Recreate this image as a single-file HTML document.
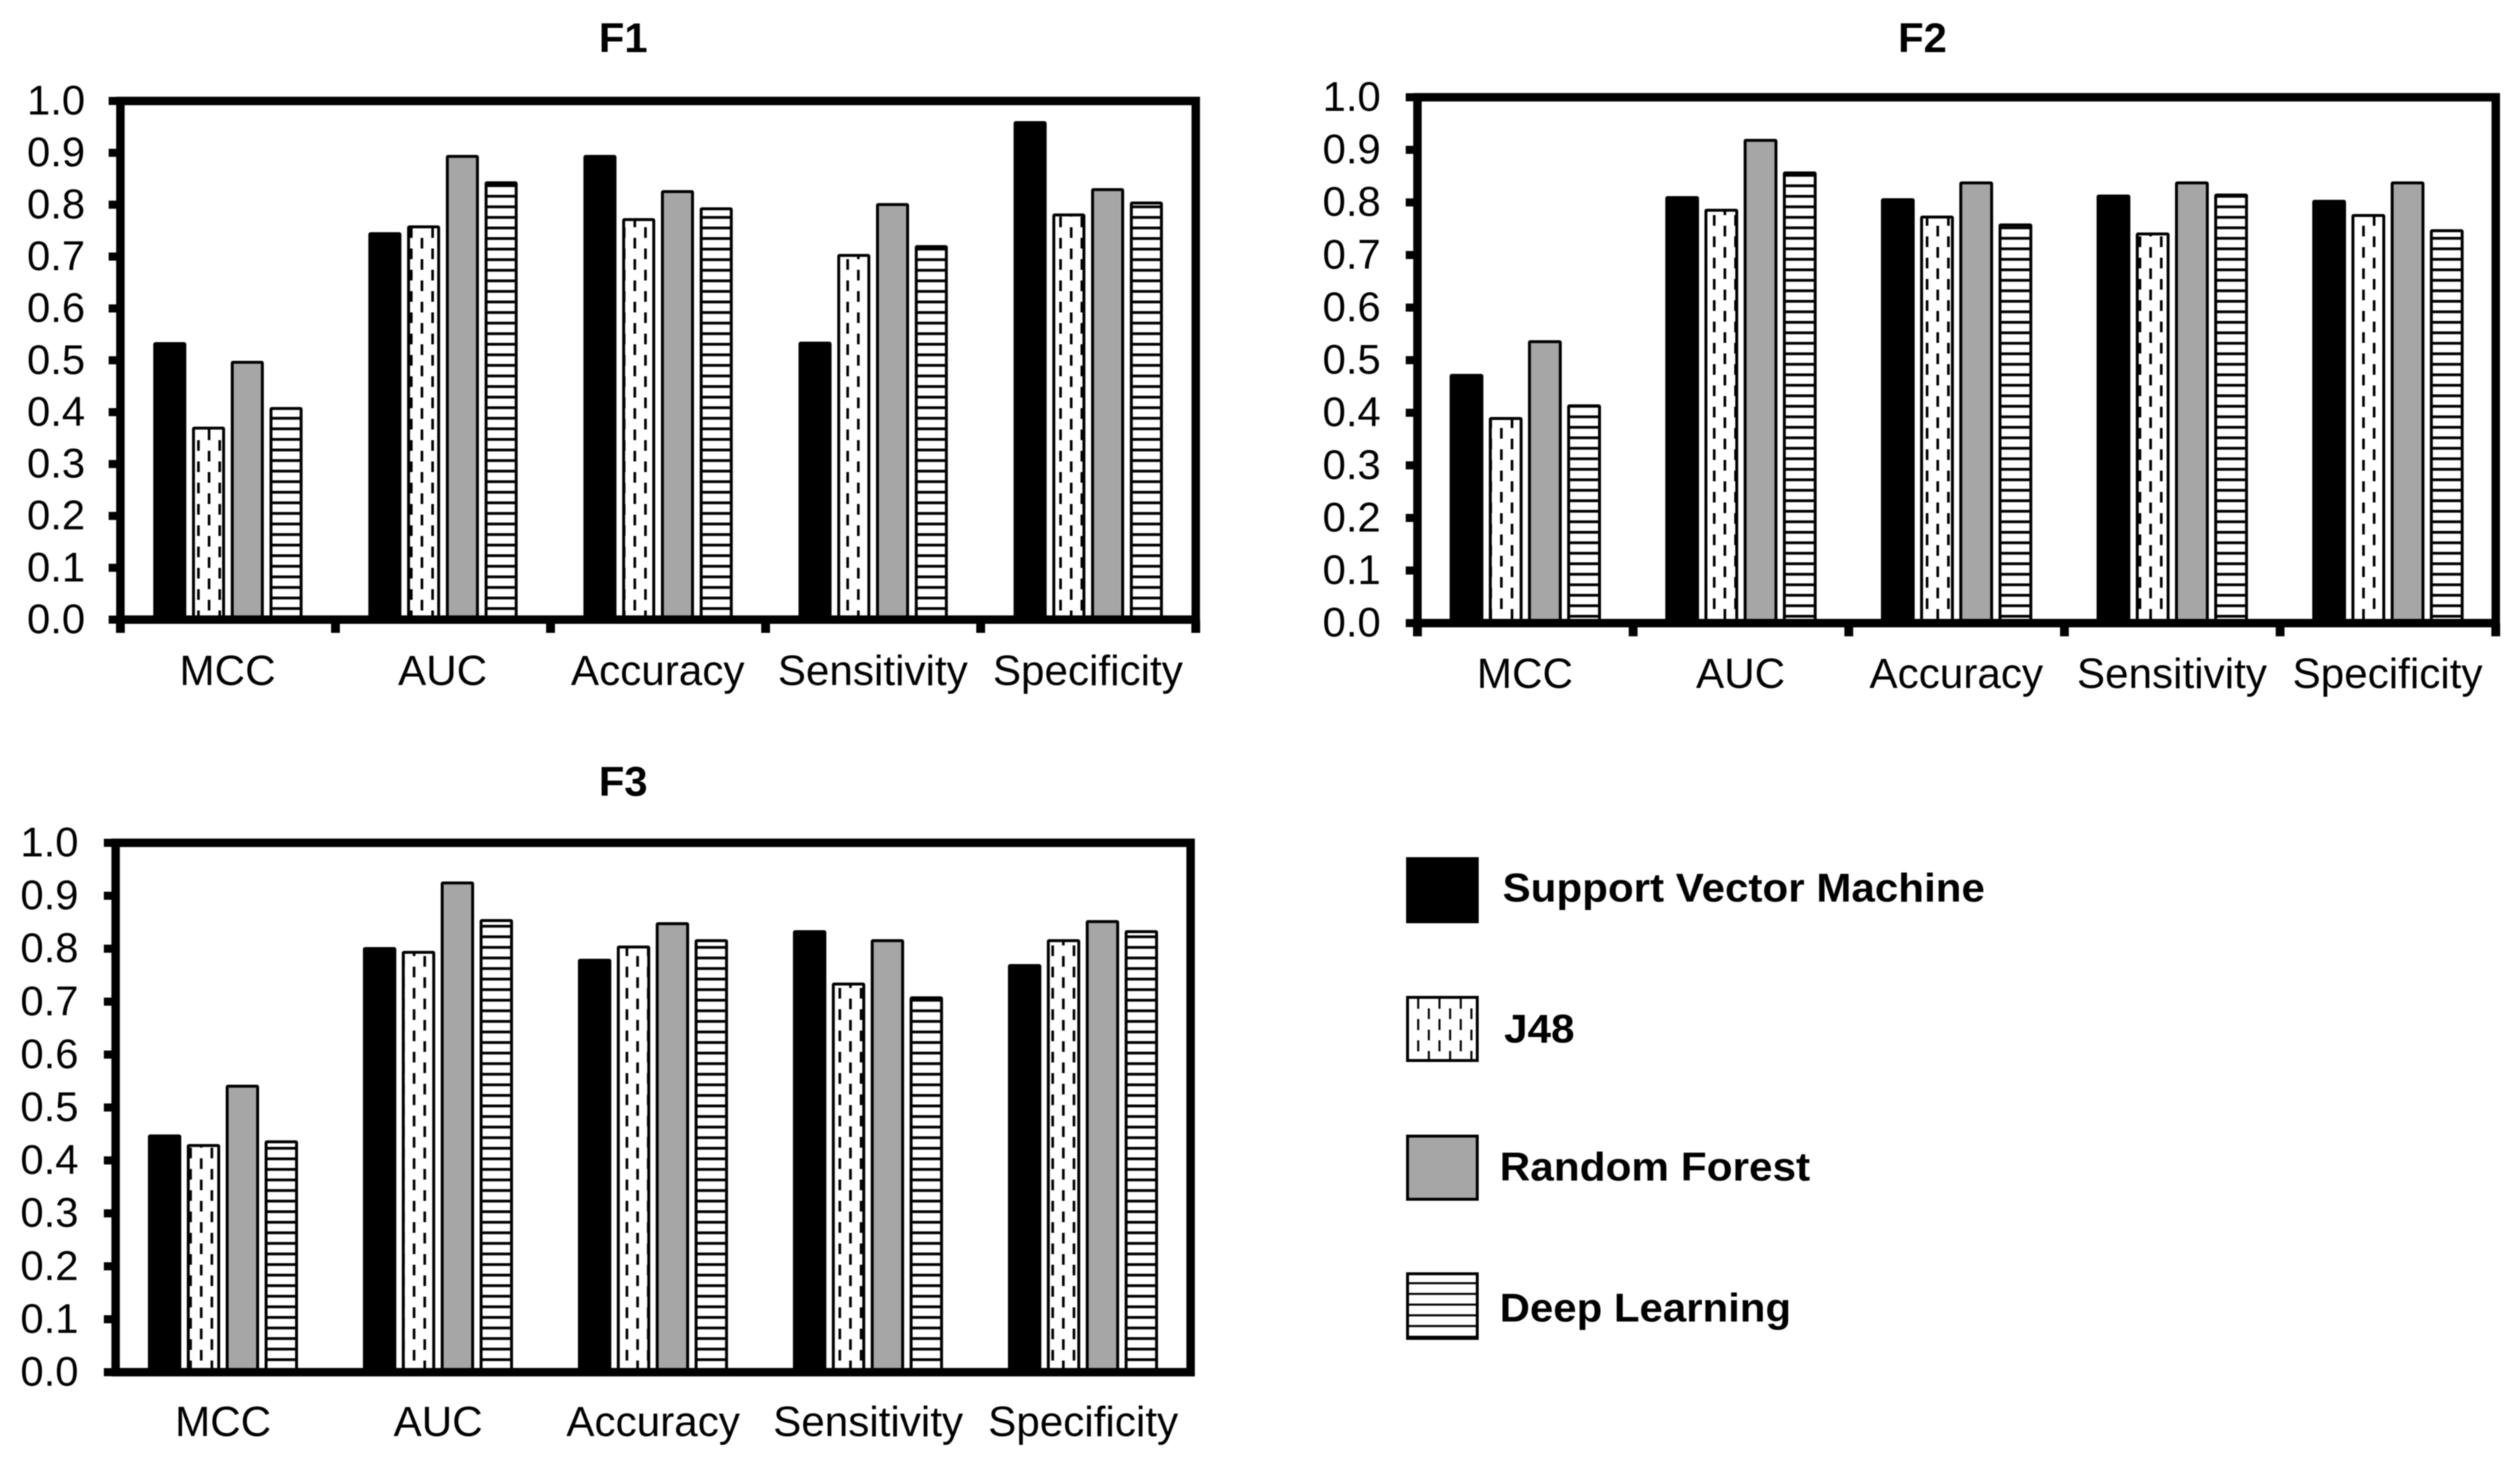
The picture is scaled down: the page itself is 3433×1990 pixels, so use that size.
<!DOCTYPE html>
<html lang="en">
<head>
<meta charset="utf-8">
<title>Classifier performance on feature sets F1, F2, F3</title>
<style>
  html, body { margin: 0; padding: 0; background: #ffffff; }
  svg { display: block; filter: blur(0.7px); }
  text { font-family: "Liberation Sans", Arial, sans-serif; fill: #000; }
  .title, .legend-label { font-weight: bold; }
</style>
</head>
<body>
<svg id="figure" xmlns="http://www.w3.org/2000/svg" width="3433" height="1990" viewBox="0 0 3433 1990">
  <defs>
    <pattern id="dash-f1" patternUnits="userSpaceOnUse" width="29" height="29" patternTransform="translate(22 5)">
      <rect x="0" y="0" width="3.6" height="14.5" fill="#000"/>
      <rect x="14.5" y="14.5" width="3.6" height="14.5" fill="#000"/>
    </pattern>
    <pattern id="dash-f2" patternUnits="userSpaceOnUse" width="29" height="29" patternTransform="translate(13.5 3)">
      <rect x="0" y="0" width="3.6" height="14.5" fill="#000"/>
      <rect x="14.5" y="14.5" width="3.6" height="14.5" fill="#000"/>
    </pattern>
    <pattern id="dash-f3" patternUnits="userSpaceOnUse" width="29" height="29" patternTransform="translate(11.3 11.7)">
      <rect x="0" y="0" width="3.6" height="14.5" fill="#000"/>
      <rect x="14.5" y="14.5" width="3.6" height="14.5" fill="#000"/>
    </pattern>
    <pattern id="dash-legend" patternUnits="userSpaceOnUse" width="29" height="29" patternTransform="translate(16.6 25)">
      <rect x="0" y="0" width="2.8" height="15" fill="#000"/>
      <rect x="14.5" y="14.5" width="2.8" height="15" fill="#000"/>
    </pattern>
    <pattern id="lines-f1" patternUnits="userSpaceOnUse" width="14.4" height="14.4" patternTransform="translate(0 6.2)">
      <rect x="0" y="0" width="14.4" height="3.8" fill="#000"/>
    </pattern>
    <pattern id="lines-f2" patternUnits="userSpaceOnUse" width="14.3" height="14.3" patternTransform="translate(0 8.1)">
      <rect x="0" y="0" width="14.3" height="3.8" fill="#000"/>
    </pattern>
    <pattern id="lines-f3" patternUnits="userSpaceOnUse" width="14.4" height="14.4" patternTransform="translate(0 6.9)">
      <rect x="0" y="0" width="14.4" height="3.8" fill="#000"/>
    </pattern>
    <pattern id="lines-legend" patternUnits="userSpaceOnUse" width="14.6" height="14.6" patternTransform="translate(0 9)">
      <rect x="0" y="0" width="14.6" height="2.8" fill="#000"/>
    </pattern>
  </defs>

  <text class="title" x="849" y="71" font-size="57" text-anchor="middle">F1</text>
  <text class="title" x="2619" y="71" font-size="57" text-anchor="middle">F2</text>
  <text class="title" x="849" y="1084" font-size="57" text-anchor="middle">F3</text>

  <g id="panel-f1"></g>
  <g id="panel-f2"></g>
  <g id="panel-f3"></g>

  <g>
    <g>
      <rect x="1915.5" y="1167.5" width="99" height="90" fill="#000"/>
      <text class="legend-label" x="2047" y="1228" font-size="55" textLength="657" lengthAdjust="spacingAndGlyphs">Support Vector Machine</text>
    </g>
    <g>
      <rect x="1917.5" y="1358.5" width="95" height="86" fill="url(#dash-legend)" stroke="#000" stroke-width="4"/>
      <text class="legend-label" x="2049" y="1420" font-size="55" textLength="96" lengthAdjust="spacingAndGlyphs">J48</text>
    </g>
    <g>
      <rect x="1917.5" y="1547.5" width="95" height="86" fill="#a6a6a6" stroke="#000" stroke-width="4"/>
      <text class="legend-label" x="2043" y="1608" font-size="55" textLength="423" lengthAdjust="spacingAndGlyphs">Random Forest</text>
    </g>
    <g>
      <rect x="1917.5" y="1735" width="95" height="88" fill="url(#lines-legend)" stroke="#000" stroke-width="4"/>
      <text class="legend-label" x="2043" y="1800" font-size="55" textLength="397" lengthAdjust="spacingAndGlyphs">Deep Learning</text>
    </g>
  </g>
</svg>

<script>
const categories = ['MCC', 'AUC', 'Accuracy', 'Sensitivity', 'Specificity'];
const yTickValues = [0, 0.1, 0.2, 0.3, 0.4, 0.5, 0.6, 0.7, 0.8, 0.9, 1.0];
const yTickLabels = ['0.0', '0.1', '0.2', '0.3', '0.4', '0.5', '0.6', '0.7', '0.8', '0.9', '1.0'];

const f1Svm = [0.535, 0.747, 0.896, 0.536, 0.961];
const f1J48 = [0.372, 0.760, 0.774, 0.705, 0.783];
const f1Rf  = [0.499, 0.896, 0.828, 0.803, 0.832];
const f1Dl  = [0.410, 0.845, 0.795, 0.722, 0.806];

const f2Svm = [0.474, 0.812, 0.808, 0.815, 0.805];
const f2J48 = [0.392, 0.788, 0.775, 0.743, 0.778];
const f2Rf  = [0.538, 0.921, 0.840, 0.840, 0.840];
const f2Dl  = [0.416, 0.859, 0.760, 0.817, 0.749];

const f3Svm = [0.449, 0.803, 0.781, 0.835, 0.771];
const f3J48 = [0.431, 0.796, 0.806, 0.736, 0.818];
const f3Rf  = [0.543, 0.927, 0.850, 0.818, 0.854];
const f3Dl  = [0.438, 0.856, 0.818, 0.710, 0.835];

const SVG_NS = 'http://www.w3.org/2000/svg';

function make(tag, attrs, parent) {
  const node = document.createElementNS(SVG_NS, tag);
  for (const key in attrs) node.setAttribute(key, attrs[key]);
  parent.appendChild(node);
  return node;
}

function drawPanel(cfg) {
  const root = document.getElementById(cfg.id);
  const groupWidth = (cfg.right - cfg.left) / categories.length;
  const xBand = function (c) { return cfg.left + c * groupWidth; };
  const yScale = function (v) { return cfg.bottom - v * (cfg.bottom - cfg.top); };
  const fills = ['#000000', 'url(#dash-' + cfg.key + ')', '#a6a6a6', 'url(#lines-' + cfg.key + ')'];
  const seriesList = [cfg.svm, cfg.j48, cfg.rf, cfg.dl];

  seriesList.forEach(function (values, s) {
    values.forEach(function (value, c) {
      const x = xBand(c) + cfg.pad + s * cfg.pitch;
      const yTop = yScale(value);
      const bar = make('rect', {
        x: x + 2,
        y: yTop + 2,
        width: cfg.barWidth - 4,
        height: cfg.bottom - yTop - 2,
        fill: fills[s],
        stroke: '#000',
        'stroke-width': 4,
        rx: 1
      }, root);
      
      
    });
  });

  yTickValues.forEach(function (value, i) {
    const y = yScale(value);
    const tick = make('rect', {
      x: cfg.left - 16,
      y: y - 5.5,
      width: 16,
      height: 11,
      fill: '#000'
    }, root);
    
    
    const label = make('text', {
      x: cfg.labelRight,
      y: y + 18.5,
      'font-size': 57,
      'text-anchor': 'end'
    }, root);
    label.textContent = yTickLabels[i];
    
    
  });

  categories.forEach(function (name, c) {
    const label = make('text', {
      x: xBand(c) + groupWidth / 2 + cfg.labelShift,
      y: cfg.catBaseline,
      'font-size': 57.5,
      'text-anchor': 'middle'
    }, root);
    label.textContent = name;
    
    
  });

  if (cfg.xTicks) {
    for (let c = 0; c <= categories.length; c++) {
      const tick = make('rect', {
        x: xBand(c) - 6,
        y: cfg.bottom,
        width: 12,
        height: 18,
        fill: '#000'
      }, root);
      
      
    }
  }

  const frame = make('rect', {
    x: cfg.left,
    y: cfg.top,
    width: cfg.right - cfg.left,
    height: cfg.bottom - cfg.top,
    fill: 'none',
    stroke: '#000',
    'stroke-width': 11.5
  }, root);
  
  
}

drawPanel({ id: 'panel-f1', key: 'f1', left: 164, right: 1629, top: 137.5, bottom: 844, pad: 44.8, pitch: 52.8, barWidth: 45, labelRight: 116, catBaseline: 933, labelShift: -0.5, xTicks: true, svm: f1Svm, j48: f1J48, rf: f1Rf, dl: f1Dl });
drawPanel({ id: 'panel-f2', key: 'f2', left: 1931, right: 3400, top: 132.5, bottom: 848.7, pad: 43.8, pitch: 53.4, barWidth: 46, labelRight: 1881, catBaseline: 937, labelShift: -0.5, xTicks: true, svm: f2Svm, j48: f2J48, rf: f2Rf, dl: f2Dl });
drawPanel({ id: 'panel-f3', key: 'f3', left: 157.5, right: 1622, top: 1148, bottom: 1869, pad: 44, pitch: 53, barWidth: 45.5, labelRight: 107, catBaseline: 1956, labelShift: 0, xTicks: false, svm: f3Svm, j48: f3J48, rf: f3Rf, dl: f3Dl });
</script>
</body>
</html>
